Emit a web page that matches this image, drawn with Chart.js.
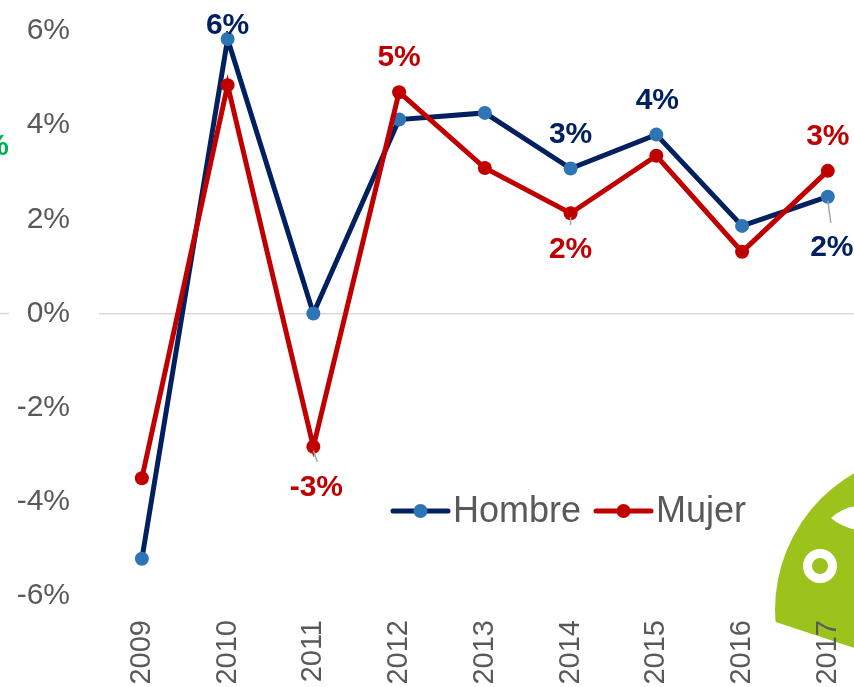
<!DOCTYPE html>
<html>
<head>
<meta charset="utf-8">
<script src="https://cdn.jsdelivr.net/npm/chart.js@4.4.0/dist/chart.umd.min.js"></script>
<style>
  html, body { margin: 0; padding: 0; background: #fff; overflow: hidden; }
  #wrap { width: 854px; height: 687px; overflow: hidden; position: relative; }
  canvas { display: block; }
</style>
</head>
<body>
<div id="wrap"><canvas id="chart" width="887" height="687"></canvas></div>
<script>
// Data
const years = ['2009', '2010', '2011', '2012', '2013', '2014', '2015', '2016', '2017'];
const hombre = [-5.21, 5.83, 0.0, 4.12, 4.26, 3.08, 3.80, 1.86, 2.48];
const mujer = [-3.50, 4.85, -2.83, 4.70, 3.09, 2.13, 3.35, 1.31, 3.03];
const yMin = -6;
const yMax = 6;
const yStep = 2;

// which points carry a value label
const hombreLabelIdx = [1, 5, 6, 8];
const mujerLabelIdx = [2, 3, 5, 8];

const FONT = "'Liberation Sans', Arial, sans-serif";
const NAVY = '#002060';
const BLUE_DOT = '#2E75B6';
const RED = '#C00000';
const GREY_TEXT = '#595959';

// label placement relative to the point (dx, dy), optional leader line end
const labelStyle = {
    0: {
        1: { dx: 0, dy: -13 },
        5: { dx: 0, dy: -34 },
        6: { dx: 1, dy: -34 },
        8: { dx: 4, dy: 51, lead: [3, 26] }
    },
    1: {
        2: { dx: 3, dy: 41, lead: [4, 15] },
        3: { dx: 0, dy: -34 },
        5: { dx: 0, dy: 37, lead: [0, 12] },
        8: { dx: 0, dy: -34 }
    }
};

const fmtPct = v => Math.round(v) + '%';

const decorPlugin = {
    id: 'decor',
    beforeDraw(chart) {
        const ctx = chart.ctx;
        const y0 = chart.scales.y.getPixelForValue(0);
        ctx.save();
        // bit of the zero line left of its label
        ctx.strokeStyle = '#D9D9D9';
        ctx.lineWidth = 1.5;
        ctx.beginPath();
        ctx.moveTo(0, y0);
        ctx.lineTo(9, y0);
        ctx.stroke();

        // cut-off green text at the left edge
        ctx.fillStyle = '#00B050';
        ctx.font = 'bold 30px ' + FONT;
        ctx.textAlign = 'right';
        ctx.textBaseline = 'middle';
        ctx.fillText('%', 9, 147);

        // green logo peeking in at bottom right
        ctx.beginPath();
        ctx.moveTo(700, 400);
        ctx.lineTo(900, 400);
        ctx.lineTo(900, 663);
        ctx.lineTo(700, 597);
        ctx.closePath();
        ctx.clip();
        ctx.fillStyle = '#9CC31C';
        ctx.beginPath();
        ctx.arc(933, 610, 158, 0, Math.PI * 2);
        ctx.fill();
        ctx.strokeStyle = '#fff';
        ctx.lineWidth = 9;
        ctx.beginPath();
        ctx.arc(820, 566, 12.5, 0, Math.PI * 2);
        ctx.stroke();
        ctx.fillStyle = '#fff';
        ctx.beginPath();
        ctx.moveTo(831, 518);
        ctx.quadraticCurveTo(842, 508, 856, 506);
        ctx.lineTo(856, 530);
        ctx.quadraticCurveTo(840, 526, 831, 518);
        ctx.fill();
        ctx.restore();
    },
    afterDatasetsDraw(chart) {
        const ctx = chart.ctx;
        ctx.save();
        ctx.font = 'bold 30px ' + FONT;
        ctx.textAlign = 'center';
        ctx.textBaseline = 'middle';
        [hombreLabelIdx, mujerLabelIdx].forEach((idxList, di) => {
            const ds = chart.data.datasets[di];
            const meta = chart.getDatasetMeta(di);
            idxList.forEach(i => {
                const pt = meta.data[i];
                const st = labelStyle[di][i];
                if (st.lead) {
                    ctx.strokeStyle = '#A6A6A6';
                    ctx.lineWidth = 1.5;
                    ctx.beginPath();
                    ctx.moveTo(pt.x, pt.y + 4);
                    ctx.lineTo(pt.x + st.lead[0], pt.y + st.lead[1]);
                    ctx.stroke();
                }
                ctx.fillStyle = ds.labelColor;
                ctx.fillText(fmtPct(ds.data[i]), pt.x + st.dx, pt.y + st.dy);
            });
        });
        ctx.restore();
    },
    afterDraw(chart) {
        // legend sitting inside the plot
        const ctx = chart.ctx;
        const items = [
            { ds: chart.data.datasets[0], x: 393 },
            { ds: chart.data.datasets[1], x: 596 }
        ];
        const y = 511;
        ctx.save();
        items.forEach(it => {
            ctx.strokeStyle = it.ds.borderColor;
            ctx.lineWidth = 5;
            ctx.lineCap = 'round';
            ctx.beginPath();
            ctx.moveTo(it.x, y);
            ctx.lineTo(it.x + 55, y);
            ctx.stroke();
            ctx.fillStyle = it.ds.pointBackgroundColor;
            ctx.beginPath();
            ctx.arc(it.x + 27.5, y, 7, 0, Math.PI * 2);
            ctx.fill();
            ctx.fillStyle = GREY_TEXT;
            ctx.font = '36px ' + FONT;
            ctx.textAlign = 'left';
            ctx.textBaseline = 'middle';
            ctx.fillText(it.ds.label, it.x + 60, y + 1);
        });
        ctx.restore();
    }
};

new Chart(document.getElementById('chart'), {
    type: 'line',
    data: {
        labels: years,
        datasets: [
            {
                label: 'Hombre',
                data: hombre,
                borderColor: NAVY,
                borderWidth: 5,
                pointBackgroundColor: BLUE_DOT,
                pointBorderColor: BLUE_DOT,
                pointBorderWidth: 0,
                pointRadius: 7,
                tension: 0,
                order: 2,
                labelColor: NAVY
            },
            {
                label: 'Mujer',
                data: mujer,
                borderColor: RED,
                borderWidth: 5,
                pointBackgroundColor: RED,
                pointBorderColor: RED,
                pointBorderWidth: 0,
                pointRadius: 7,
                tension: 0,
                order: 1,
                labelColor: RED
            }
        ]
    },
    options: {
        responsive: false,
        animation: false,
        layout: { padding: { top: 31, right: 0, bottom: 0, left: 0 } },
        plugins: {
            legend: { display: false },
            tooltip: { enabled: false }
        },
        scales: {
            x: {
                offset: true,
                grid: { display: false, drawTicks: false },
                border: { display: false },
                afterFit: scale => { scale.height = 91; },
                ticks: {
                    autoSkip: false,
                    minRotation: 90,
                    maxRotation: 90,
                    padding: 24,
                    color: GREY_TEXT,
                    font: { family: FONT, size: 29 }
                }
            },
            y: {
                min: yMin,
                max: yMax,
                border: { display: false },
                afterFit: scale => {
                    scale.width = 99;
                    // tick padding is only meant horizontally here
                    scale.paddingTop = 0;
                    scale.paddingBottom = 0;
                },
                grid: {
                    drawTicks: false,
                    lineWidth: 1.5,
                    color: c => (c.tick && c.tick.value === 0 ? '#D9D9D9' : 'rgba(0,0,0,0)')
                },
                ticks: {
                    stepSize: yStep,
                    padding: 29,
                    color: GREY_TEXT,
                    font: { family: FONT, size: 30 },
                    callback: v => v + '%'
                }
            }
        }
    },
    plugins: [decorPlugin]
});
</script>
</body>
</html>
